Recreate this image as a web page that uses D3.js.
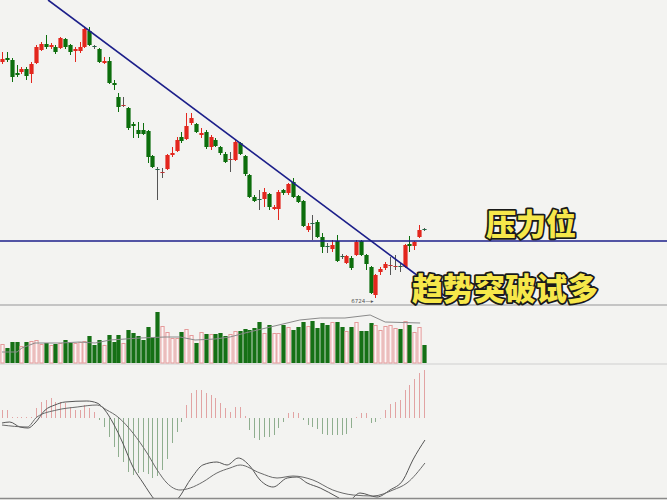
<!DOCTYPE html>
<html><head><meta charset="utf-8">
<script src="https://cdn.jsdelivr.net/npm/d3@7"></script>
<style>body{margin:0;background:#f3f3f1;}svg{display:block}</style>
</head><body><svg id="c" width="667" height="500"></svg>
<script>
const W = 667, H = 500;

// ---- price candles ----
const open = [7196,7204,7200,7174,7176,7182,7172,7194,7220,7232, 7226,7226,7224,7242,7230,7218,7218,7226,7258,7228, 7222,7194,7198,7154,7126,7108,7104,7072,7060,7060, 7058,7008,6982,6974,6982,7010,7018,7046,7042,7074, 7072,7050,7056,7026,7040,7026,7012,7000,7000,7034, 7008,6970,6926,6922,6922,6932,6902,6902,6940,6934, 6956,6928,6918,6860,6874,6876,6846,6828,6822,6838, 6808,6794,6804,6810,6838,6810,6786,6730,6776,6784, 6788,6786,6788,6786,6832,6828,6846,6862];
const close = [7202,7200,7166,7170,7182,7168,7192,7226,7232,7226, 7230,7216,7244,7226,7216,7222,7226,7262,7230,7226, 7196,7198,7154,7150,7106,7110,7064,7068,7052,7052, 7006,6986,6980,6976,7010,7014,7040,7038,7068,7084, 7056,7054,7026,7046,7028,7014,6996,7002,7036,7012, 6972,6926,6918,6920,6936,6906,6906,6936,6934,6952, 6926,6916,6868,6868,6872,6846,6826,6826,6830,6798, 6806,6808,6784,6836,6810,6792,6734,6770,6782,6792, 6790,6788,6786,6830,6828,6836,6860,6860];
const high = [7216,7216,7204,7190,7186,7186,7196,7230,7236,7250, 7234,7230,7246,7244,7232,7226,7236,7264,7266,7230, 7224,7206,7206,7160,7134,7126,7106,7076,7076,7074, 7060,7010,6986,6984,7012,7026,7046,7056,7094,7094, 7074,7064,7060,7050,7044,7028,7016,7016,7040,7036, 7010,6972,6930,6940,6944,6934,6910,6940,6942,6954, 6964,6930,6920,6874,6890,6880,6854,6834,6840,6850, 6812,6810,6808,6840,6840,6812,6788,6772,6786,6796, 6806,6810,6794,6832,6848,6838,6870,6864];
const low = [7192,7196,7156,7166,7172,7160,7154,7192,7218,7222, 7222,7212,7222,7222,7210,7196,7214,7224,7228,7222, 7194,7192,7152,7140,7096,7106,7060,7044,7044,7050, 6994,6984,6920,6964,6980,7006,7016,7034,7040,7070, 7054,7044,7022,7020,7026,7010,6994,6976,6998,7010, 6968,6924,6916,6900,6906,6900,6900,6880,6930,6930, 6924,6914,6866,6856,6840,6844,6814,6814,6816,6796, 6802,6792,6780,6808,6808,6780,6732,6724,6770,6780, 6770,6780,6776,6784,6816,6820,6844,6858];

// ---- volume ----
const volume = [19,15,21,21,17,21,22,23,19,20, 18,19,20,23,20,20,21,22,27,18, 23,18,28,21,28,20,33,30,27,23, 36,26,51,37,31,25,25,31,34,28, 20,31,29,29,29,30,27,29,32,32, 34,33,35,41,30,38,30,30,38,36, 33,36,41,37,42,35,40,38,41,41, 36,32,36,41,32,32,40,38,33,37, 38,35,34,42,38,31,36,18];
const volMA = [[0,11],[3.1,11],[4.1,15],[6.8,20],[12,20],[16,21],[19.2,20],[22.3,23],[28.5,25],[33.6,26],[36.7,26],[39.8,23],[43.9,24],[47,26],[50.1,30],[55.3,36],[61.4,43],[65.6,45],[70.7,45],[75.9,48],[79,41],[86.2,40]];

// ---- MACD ----
const macdHist = [8,8,1,1,1,1,1,10,16,18, 20,16,16,15,11,8,8,13,10,6, -2,-9,-19,-29,-39,-44,-54,-57,-55,-54, -56,-60,-58,-52,-41,-25,-14,-4,13,25, 28,28,25,23,20,15,10,6,11,11, 2,-12,-20,-22,-19,-19,-17,-10,-4,5, 6,5,-2,-7,-9,-11,-16,-17,-17,-17, -17,-16,-10,1,5,5,-5,-4,-0.5,8, 14,16,18,28,33,39,45,48];
const dif = [[0,-5],[1.6,-4],[3.7,-9],[5.4,-10],[6.8,-5],[8.9,8],[10.9,13],[13,16],[17.5,17],[19.6,15],[21.2,8],[22.9,-5],[24.9,-25],[27,-49],[29.1,-65],[31.5,-82],[33.6,-92],[36.1,-82],[39.2,-59],[41.4,-47],[44.3,-44],[46.4,-47],[48.7,-40],[51.1,-48],[53.2,-62],[55.9,-69],[58.8,-60],[60.8,-59],[62.9,-65],[65.6,-70],[69.1,-79],[71.1,-84],[73.8,-75],[77.3,-79],[80,-72],[82.7,-62],[84.7,-42],[87.2,-22]];
const dea = [[0,-7],[5.2,-9],[7.2,1],[11.3,8],[15.5,11],[19.6,13],[21.6,8],[23.9,1],[27,-15],[29.9,-35],[32,-52],[34,-65],[36.7,-72],[38.8,-70],[41.4,-64],[44.3,-55],[47,-50],[49.1,-47],[53.2,-55],[56.7,-60],[60,-58],[64.1,-62],[68.2,-72],[72.4,-77],[76.5,-78],[80.6,-72],[83.5,-65],[87.2,-45]];

// ---- drawn lines & labels ----
const trendLine = [[9.5,7320],[91.3,6728]];
const resistance = 6838;
const lowLabel = "6724";
const lowIndex = 77;
const label1 = "压力位";
const label2 = "趋势突破试多";

const svg = d3.select('#c');
svg.append('rect').attr('width', W).attr('height', H).attr('fill', '#f3f3f1');

const x = d3.scaleLinear().domain([0, 137.1]).range([2, 667]);
const yP = d3.scaleLinear().domain([7320, 6710]).range([0, 305]);
const yV = d3.scaleLinear().domain([0, 58]).range([363, 305]);
const yM = d3.scaleLinear().domain([80, -80]).range([338, 498]);

const defs = svg.append('defs');
defs.append('clipPath').attr('id', 'cp').append('rect').attr('x', 0).attr('y', 0).attr('width', W).attr('height', 304);
defs.append('clipPath').attr('id', 'cm').append('rect').attr('x', 0).attr('y', 365).attr('width', W).attr('height', 133);

const RED = '#e3261d', GREEN = '#0c6e0c';
const data = open.map((o, i) => ({i, o, c: close[i], h: high[i], l: low[i], v: volume[i], m: macdHist[i]}));
const bw = 4.2;

// panels separators
svg.append('line').attr('x1', 0).attr('x2', W).attr('y1', 305).attr('y2', 305).attr('stroke', '#b4b4b4').attr('stroke-width', 1.5);
svg.append('line').attr('x1', 0).attr('x2', W).attr('y1', 364).attr('y2', 364).attr('stroke', '#cfcfcf').attr('stroke-width', 1);
svg.append('line').attr('x1', 0).attr('x2', W).attr('y1', 498.5).attr('y2', 498.5).attr('stroke', '#8a8a8a').attr('stroke-width', 1.5);

// candles
const gP = svg.append('g').attr('clip-path', 'url(#cp)');
const cg = gP.selectAll('g.c').data(data).join('g');
cg.append('line')
  .attr('x1', d => Math.round(x(d.i)) + 0.5).attr('x2', d => Math.round(x(d.i)) + 0.5)
  .attr('y1', d => yP(d.h)).attr('y2', d => yP(d.l))
  .attr('stroke', d => Math.abs(d.c - d.o) <= 2 ? '#555' : (d.c >= d.o ? RED : GREEN)).attr('stroke-width', 1);
cg.append('rect')
  .attr('x', d => Math.round(x(d.i)) + 0.5 - bw / 2)
  .attr('width', bw)
  .attr('y', d => yP(Math.max(d.o, d.c)))
  .attr('height', d => Math.max(1, yP(Math.min(d.o, d.c)) - yP(Math.max(d.o, d.c))))
  .attr('fill', d => Math.abs(d.c - d.o) <= 2 ? (d.c >= d.o ? '#b33' : '#264') : (d.c >= d.o ? RED : GREEN));

// trend & resistance
gP.append('line')
  .attr('x1', x(trendLine[0][0])).attr('y1', yP(trendLine[0][1]))
  .attr('x2', x(trendLine[1][0])).attr('y2', yP(trendLine[1][1]))
  .attr('stroke', '#1c1f8a').attr('stroke-width', 1.6);
gP.append('line').attr('x1', 0).attr('x2', W).attr('y1', yP(resistance)).attr('y2', yP(resistance))
  .attr('stroke', '#1c1f8a').attr('stroke-width', 1.6);

// low label
svg.append('text').attr('x', x(lowIndex) - 2).attr('y', yP(6724) + 5).attr('text-anchor', 'end')
  .attr('font-size', 5.5).attr('font-family', 'DejaVu Sans, sans-serif').attr('fill', '#555').text(lowLabel + '—▸');

// volume
svg.append('g').selectAll('rect').data(data).join('rect')
  .attr('x', d => Math.round(x(d.i)) + 0.5 - bw / 2 + (d.c >= d.o ? 0.5 : 0))
  .attr('width', d => d.c >= d.o ? bw - 1 : bw)
  .attr('y', d => yV(d.v) + (d.c >= d.o ? 0.5 : 0))
  .attr('height', d => yV(0) - yV(d.v) - (d.c >= d.o ? 0.5 : 0))
  .attr('fill', d => d.c >= d.o ? '#fbf6f6' : '#157015')
  .attr('stroke', d => d.c >= d.o ? '#e59a9a' : 'none').attr('stroke-width', 1);
svg.append('path').datum(volMA)
  .attr('d', d3.line().x(d => x(d[0])).y(d => yV(d[1])))
  .attr('fill', 'none').attr('stroke', '#8a8a8a').attr('stroke-width', 1);

// MACD
const gM = svg.append('g').attr('clip-path', 'url(#cm)');
gM.selectAll('line.h').data(data).join('line')
  .attr('x1', d => Math.round(x(d.i)) + 0.5).attr('x2', d => Math.round(x(d.i)) + 0.5)
  .attr('y1', yM(0)).attr('y2', d => yM(d.m))
  .attr('stroke', d => d.m >= 0 ? '#e2a3a3' : '#8fae8f').attr('stroke-width', 1);
const ml = d3.line().x(d => x(d[0])).y(d => yM(d[1])).curve(d3.curveMonotoneX);
gM.append('path').datum(dif).attr('d', ml).attr('fill', 'none').attr('stroke', '#555').attr('stroke-width', 1);
gM.append('path').datum(dea).attr('d', ml).attr('fill', 'none').attr('stroke', '#6a6a6a').attr('stroke-width', 1);

// captions
const font = '"Noto Sans CJK SC", sans-serif';
svg.append('text').attr('x', 531).attr('y', 235).attr('text-anchor', 'middle')
  .attr('font-family', font).attr('font-size', 30).attr('font-weight', 900)
  .attr('fill', '#f6e74a').attr('stroke', '#1a1a1a').attr('stroke-width', 3.6)
  .attr('paint-order', 'stroke').attr('stroke-linejoin', 'round').text(label1);
svg.append('text').attr('x', 505).attr('y', 300).attr('text-anchor', 'middle')
  .attr('font-family', font).attr('font-size', 31).attr('font-weight', 900)
  .attr('fill', '#f6e74a').attr('stroke', '#1a1a1a').attr('stroke-width', 3.6)
  .attr('paint-order', 'stroke').attr('stroke-linejoin', 'round').text(label2);
</script></body></html>
